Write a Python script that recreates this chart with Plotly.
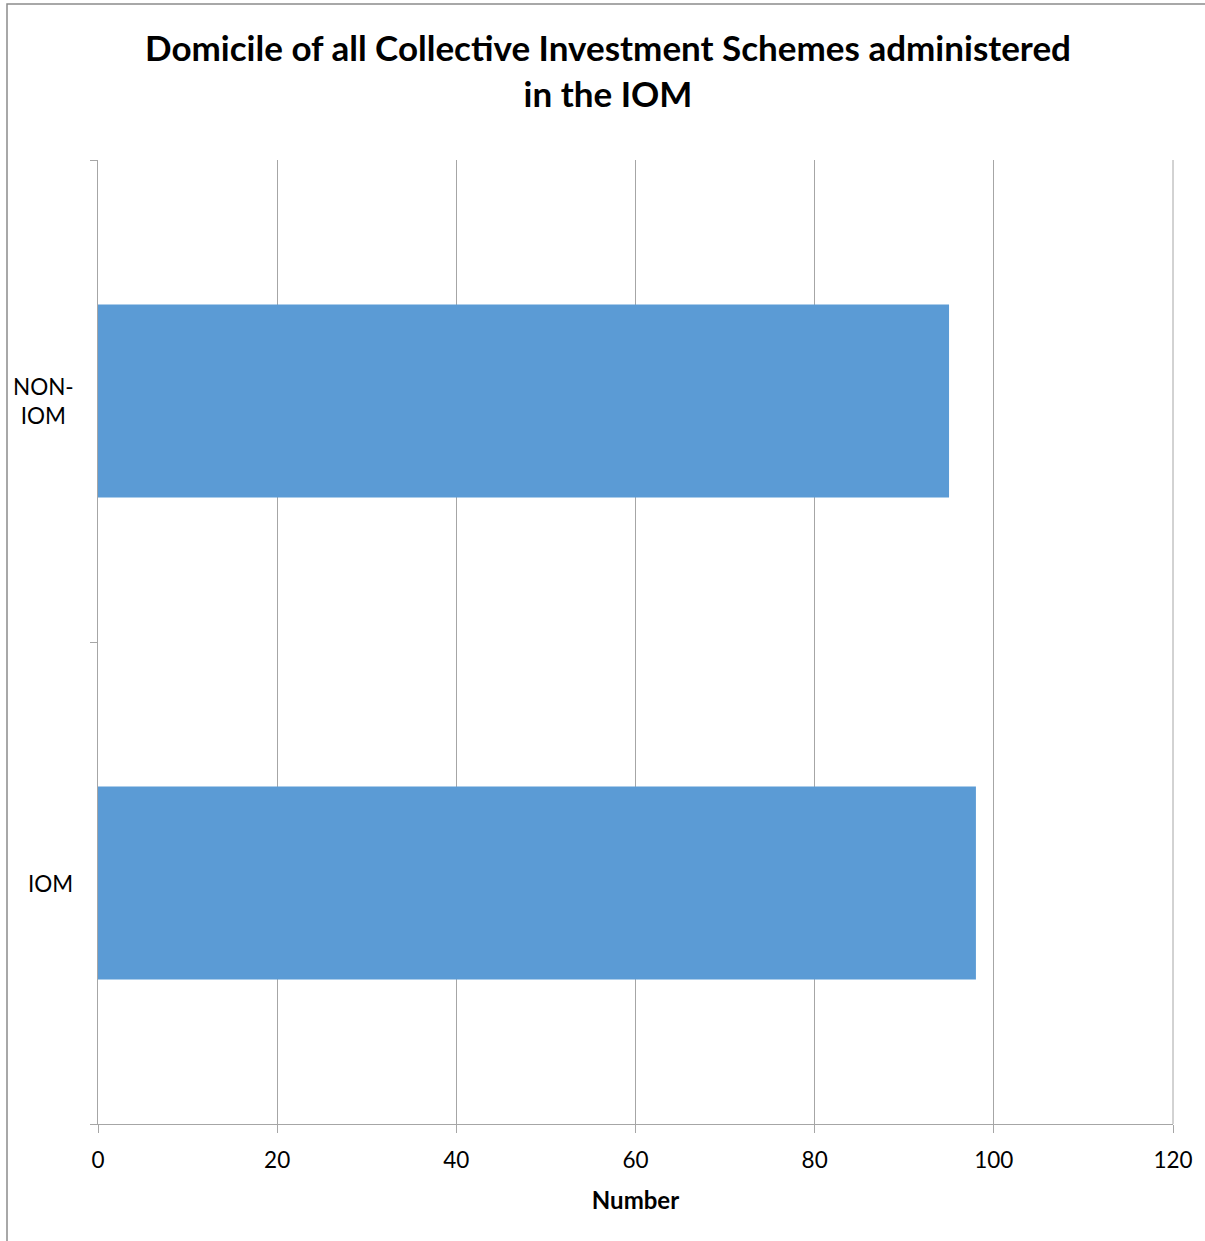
import plotly.graph_objects as go

categories = ["IOM", "NON-IOM"]
category_labels = ["IOM", "NON-<br>IOM"]
values = [98, 95]
x_ticks = [0, 20, 40, 60, 80, 100, 120]

W, H = 1205, 1241
L, R, T, B = 98, 32, 160, 117
pw, ph = W - L - R, H - T - B

fig = go.Figure(go.Bar(
    y=categories, x=values, orientation="h",
    marker=dict(color="#5B9BD5", line=dict(width=0)),
    width=0.4,
))

font = "Lato, 'Open Sans', sans-serif"
grid = "#A6A6A6"
label_px = {"IOM": 50, "NON-IOM": 44}

annotations = [
    dict(text=lab, xref="paper", yref="y", x=(label_px[cat] - L) / pw, y=cat,
         xanchor="center", yanchor="middle", align="center", showarrow=False,
         font=dict(size=22.5, family=font, color="black"))
    for cat, lab in zip(categories, category_labels)
]

fig.update_layout(
    width=W, height=H,
    margin=dict(l=L, r=R, t=T, b=B, autoexpand=False),
    paper_bgcolor="white", plot_bgcolor="white",
    showlegend=False,
    font=dict(family=font, color="black", size=22),
    title=dict(
        text="<b>Domicile of all Collective Investment Schemes administered<br>in the IOM</b>",
        x=608 / W, xanchor="center", xref="container",
        y=1 - 61 / H, yanchor="middle", yref="container",
        font=dict(size=35, family=font, color="black"),
    ),
    xaxis=dict(
        range=[0, 120], tickvals=x_ticks, ticktext=[str(v) for v in x_ticks],
        showgrid=True, gridcolor=grid, gridwidth=1,
        showline=True, linecolor=grid, linewidth=1,
        ticks="outside", ticklen=8, tickcolor=grid,
        tickfont=dict(size=22.5, family=font),
        ticklabelstandoff=8,
        zeroline=False,
        title=dict(text="<b>Number</b>", font=dict(size=24, family=font), standoff=20),
    ),
    yaxis=dict(
        categoryorder="array", categoryarray=categories,
        tickvals=categories, ticktext=category_labels,
        tickson="boundaries", showticklabels=False,
        showgrid=False, showline=True, linecolor=grid, linewidth=1,
        ticks="outside", ticklen=7, tickcolor=grid,
        range=[-0.5, 1.5],
    ),
    annotations=annotations,
    shapes=[
        dict(type="rect", xref="paper", yref="paper",
             x0=(7 - L) / pw, x1=(1215 - L) / pw,
             y0=(H - B - 1250) / ph, y1=(H - B - 4) / ph,
             line=dict(color="#8C8C8C", width=1.5), fillcolor="rgba(0,0,0,0)",
             layer="below"),
        dict(type="line", xref="paper", yref="paper", x0=1, x1=1, y0=0, y1=1,
             line=dict(color=grid, width=1), layer="below"),
    ],
)

fig.write_html("out.html")
